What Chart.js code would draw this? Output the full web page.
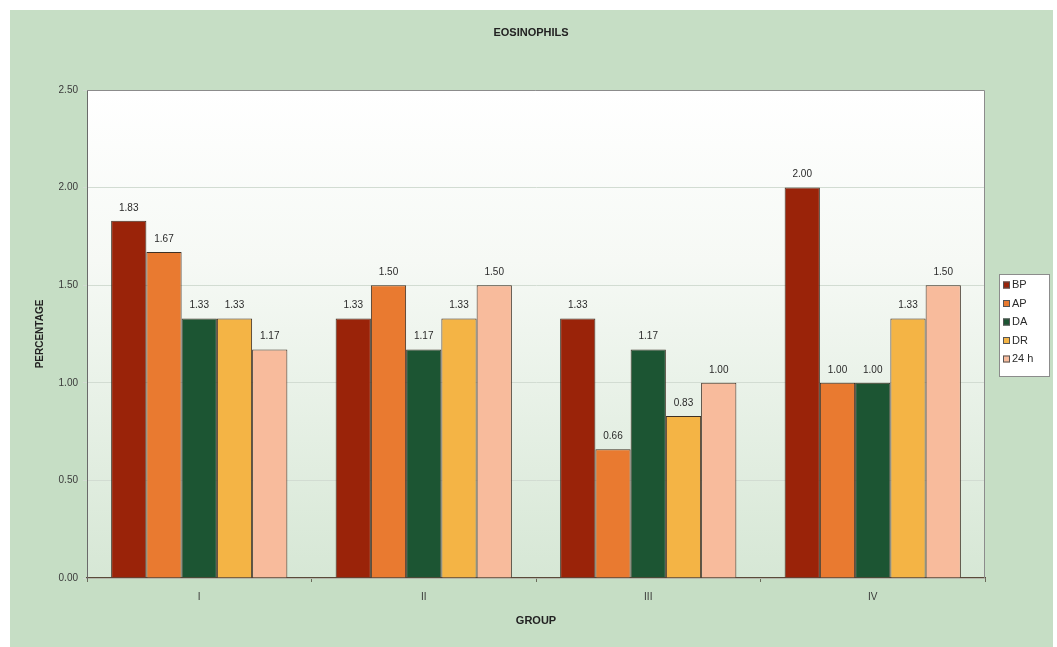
<!DOCTYPE html>
<html>
<head>
<meta charset="utf-8">
<script src="https://cdn.jsdelivr.net/npm/chart.js@4.4.1/dist/chart.umd.min.js"></script>
<style>
  html, body { margin: 0; padding: 0; background: #ffffff; }
  #wrap { width: 1057px; height: 647px; }
</style>
</head>
<body>
<div id="wrap"><canvas id="c" width="1057" height="647"></canvas></div>
<script>
// Eosinophil percentages per group, measured at five time points
const groups = ['I', 'II', 'III', 'IV'];
const seriesNames = ['BP', 'AP', 'DA', 'DR', '24 h'];
const bpValues  = [1.83, 1.33, 1.33, 2.00];
const apValues  = [1.67, 1.50, 0.66, 1.00];
const daValues  = [1.33, 1.17, 1.17, 1.00];
const drValues  = [1.33, 1.33, 0.83, 1.33];
const h24Values = [1.17, 1.50, 1.00, 1.50];
const yTicks = [0, 0.5, 1.0, 1.5, 2.0, 2.5];
const chartTitle = 'EOSINOPHILS';

const seriesValues = [bpValues, apValues, daValues, drValues, h24Values];
const seriesColors = ['#9a2309', '#e97a30', '#1c5533', '#f4b445', '#f8bb9c'];

const FONT = "'Liberation Sans', Arial, sans-serif";

// Panel background, plot-area gradient, plot border and title
const backdrop = {
  id: 'backdrop',
  beforeDraw(chart) {
    const { ctx, chartArea: a } = chart;
    ctx.save();
    ctx.fillStyle = '#ffffff';
    ctx.fillRect(0, 0, chart.width, chart.height);
    ctx.fillStyle = '#c6dec5';
    ctx.fillRect(10, 10, chart.width - 14, chart.height - 10);
    const g = ctx.createLinearGradient(0, a.top, 0, a.bottom);
    g.addColorStop(0, '#ffffff');
    g.addColorStop(0.35, '#f6f9f5');
    g.addColorStop(1, '#d6e7d5');
    ctx.fillStyle = g;
    ctx.fillRect(a.left, a.top, a.right - a.left, a.bottom - a.top);
    ctx.font = 'bold 11px ' + FONT;
    ctx.fillStyle = '#222222';
    ctx.textAlign = 'center';
    ctx.textBaseline = 'middle';
    ctx.fillText(chartTitle, 531, 33);
    ctx.restore();
  },
  afterDatasetsDraw(chart) {
    const { ctx, chartArea: a } = chart;
    ctx.save();
    ctx.strokeStyle = '#8c8c8c';
    ctx.lineWidth = 1;
    ctx.beginPath();
    ctx.moveTo(a.left, a.top + 0.5);
    ctx.lineTo(a.right - 0.5, a.top + 0.5);
    ctx.lineTo(a.right - 0.5, a.bottom);
    ctx.stroke();
    ctx.restore();
  }
};

// Value labels above each bar
const valueLabels = {
  id: 'valueLabels',
  afterDatasetsDraw(chart) {
    const { ctx } = chart;
    ctx.save();
    ctx.font = '10px ' + FONT;
    ctx.fillStyle = '#2a2a2a';
    ctx.textAlign = 'center';
    ctx.textBaseline = 'bottom';
    chart.data.datasets.forEach((ds, i) => {
      chart.getDatasetMeta(i).data.forEach((bar, j) => {
        ctx.fillText(ds.data[j].toFixed(2), bar.x, bar.y - 8);
      });
    });
    ctx.restore();
  }
};

// Boxed legend on the right
const boxLegend = {
  id: 'boxLegend',
  afterDraw(chart) {
    const { ctx } = chart;
    const x = 999, y = 274, w = 50, h = 102;
    ctx.save();
    ctx.fillStyle = '#ffffff';
    ctx.fillRect(x, y, w, h);
    ctx.strokeStyle = '#8c8c8c';
    ctx.lineWidth = 1;
    ctx.strokeRect(x + 0.5, y + 0.5, w, h);
    ctx.font = '11px ' + FONT;
    ctx.textBaseline = 'middle';
    ctx.textAlign = 'left';
    chart.data.datasets.forEach((ds, i) => {
      const cy = y + 11 + i * 18.5;
      ctx.fillStyle = ds.backgroundColor;
      ctx.fillRect(x + 4, cy - 3.5, 7, 7);
      ctx.strokeStyle = '#555555';
      ctx.strokeRect(x + 4.5, cy - 3, 6, 6);
      ctx.fillStyle = '#2a2a2a';
      ctx.fillText(ds.label, x + 13, cy);
    });
    ctx.restore();
  }
};

new Chart(document.getElementById('c'), {
  type: 'bar',
  data: {
    labels: groups,
    datasets: seriesNames.map((name, i) => ({
      label: name,
      data: seriesValues[i],
      backgroundColor: seriesColors[i],
      borderColor: '#3e3024',
      borderWidth: 1,
      borderSkipped: 'bottom',
      categoryPercentage: 0.785,
      barPercentage: 1.0
    }))
  },
  options: {
    responsive: false,
    animation: false,
    layout: { padding: { left: 0, right: 72, top: 90, bottom: 0 } },
    plugins: {
      legend: { display: false },
      tooltip: { enabled: false },
      title: { display: false }
    },
    scales: {
      x: {
        grid: {
          display: true,
          drawOnChartArea: false,
          drawTicks: true,
          tickLength: 4,
          color: '#6b6b5b',
          offset: true
        },
        border: { display: true, color: '#5a4a3a', width: 1.2 },
        ticks: {
          color: '#3a3a3a',
          font: { family: FONT, size: 10 },
          padding: 9
        },
        title: {
          display: true,
          text: 'GROUP',
          color: '#222222',
          font: { family: FONT, size: 11, weight: 'bold' },
          padding: { top: 0, bottom: 19.4 }
        },
        afterFit(scale) { scale.height = 69; }
      },
      y: {
        min: 0,
        max: 2.5,
        afterBuildTicks(scale) { scale.ticks = yTicks.map(v => ({ value: v })); },
        grid: {
          color: '#d2dcd2',
          lineWidth: 1,
          drawTicks: true,
          tickLength: 4
        },
        border: { display: true, color: '#6a6a6a', width: 1 },
        ticks: {
          color: '#3a3a3a',
          font: { family: FONT, size: 10 },
          padding: 5,
          callback: v => Number(v).toFixed(2)
        },
        title: {
          display: true,
          text: 'PERCENTAGE',
          color: '#222222',
          font: { family: FONT, size: 10, weight: 'bold' },
          padding: { top: 34, bottom: 0 }
        },
        afterFit(scale) { scale.width = 87; }
      }
    }
  },
  plugins: [backdrop, valueLabels, boxLegend]
});
</script>
</body>
</html>
